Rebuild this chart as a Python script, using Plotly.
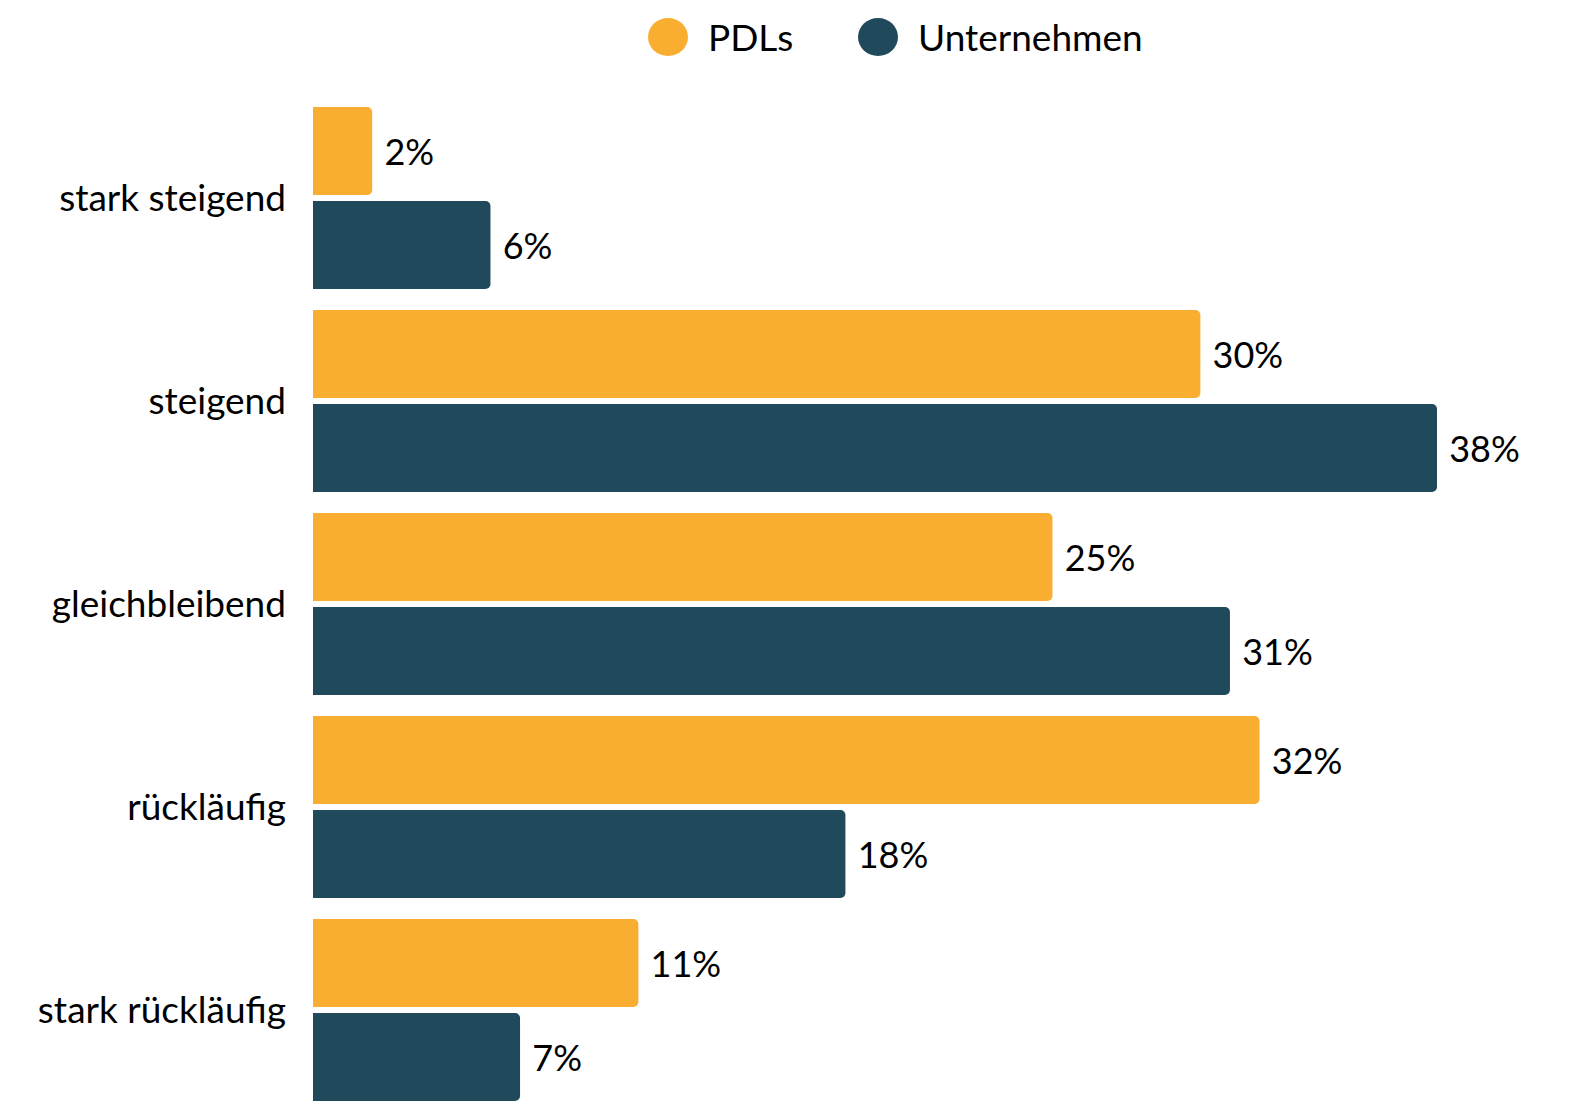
import plotly.graph_objects as go

categories = ["stark steigend", "steigend", "gleichbleibend", "rückläufig", "stark rückläufig"]
pdl_values = [2, 30, 25, 32, 11]
unt_values = [6, 38, 31, 18, 7]
series_names = ["PDLs", "Unternehmen"]
colors = ["#F9AE31", "#20495C"]

W, H = 1572, 1103
OFF = 8  # default body margin of the html page
ML, MR, MT, MB = 313 - OFF, 0, 97 - OFF, 0
PW, PH = W - ML - MR, H - MT - MB
FONT = "Source Sans Pro, Lato, Noto Sans, sans-serif"

fig = go.Figure()
for name, vals, col in zip(series_names, [pdl_values, unt_values], colors):
    fig.add_trace(go.Bar(
        y=categories, x=vals, name=name, orientation="h",
        marker=dict(color=col, cornerradius=5, line=dict(width=0)),
        text=[f"\u00a0{v}%" for v in vals], textposition="outside",
        textfont=dict(size=36, color="#000000", family=FONT),
        cliponaxis=False, showlegend=False,
    ))

px_per_unit = (1437 - 313) / 38.0
xmax = PW / px_per_unit
cat_px = 203.0
center0 = 198.0 - OFF - MT  # relative to plot top
ytop = -center0 / cat_px
ybot = (PH - center0) / cat_px

fig.update_layout(
    width=W, height=H,
    margin=dict(l=ML, r=MR, t=MT, b=MB, pad=0),
    paper_bgcolor="white", plot_bgcolor="white",
    barmode="group", bargap=0.074, bargroupgap=0.064,
    font=dict(family=FONT, color="#000000"),
    xaxis=dict(range=[0, xmax], visible=False, showgrid=False, zeroline=False),
    yaxis=dict(range=[ybot, ytop], categoryorder="array", categoryarray=categories,
               showgrid=False, zeroline=False, showline=False, ticks="",
               ticklabelstandoff=26, tickfont=dict(size=37, color="#000000", family=FONT)),
)

def px_to_paper(px, py):
    return (px - OFF - ML) / PW, (H - (py - OFF) - MB) / PH

legend_items = [(668, 706), (878, 916)]
for (cx, tx), name, col in zip(legend_items, series_names, colors):
    xp, yp = px_to_paper(cx, 37)
    fig.add_shape(type="circle", xref="paper", yref="paper",
                  xsizemode="pixel", ysizemode="pixel", xanchor=xp, yanchor=yp,
                  x0=-20, x1=20, y0=-19, y1=19, fillcolor=col, line=dict(width=0))
    txp, _ = px_to_paper(tx, 37)
    fig.add_annotation(text=name, xref="paper", yref="paper", x=txp, y=yp,
                       xanchor="left", yanchor="middle", showarrow=False,
                       font=dict(size=37, color="#000000", family=FONT))

fig.write_html("out.html")
